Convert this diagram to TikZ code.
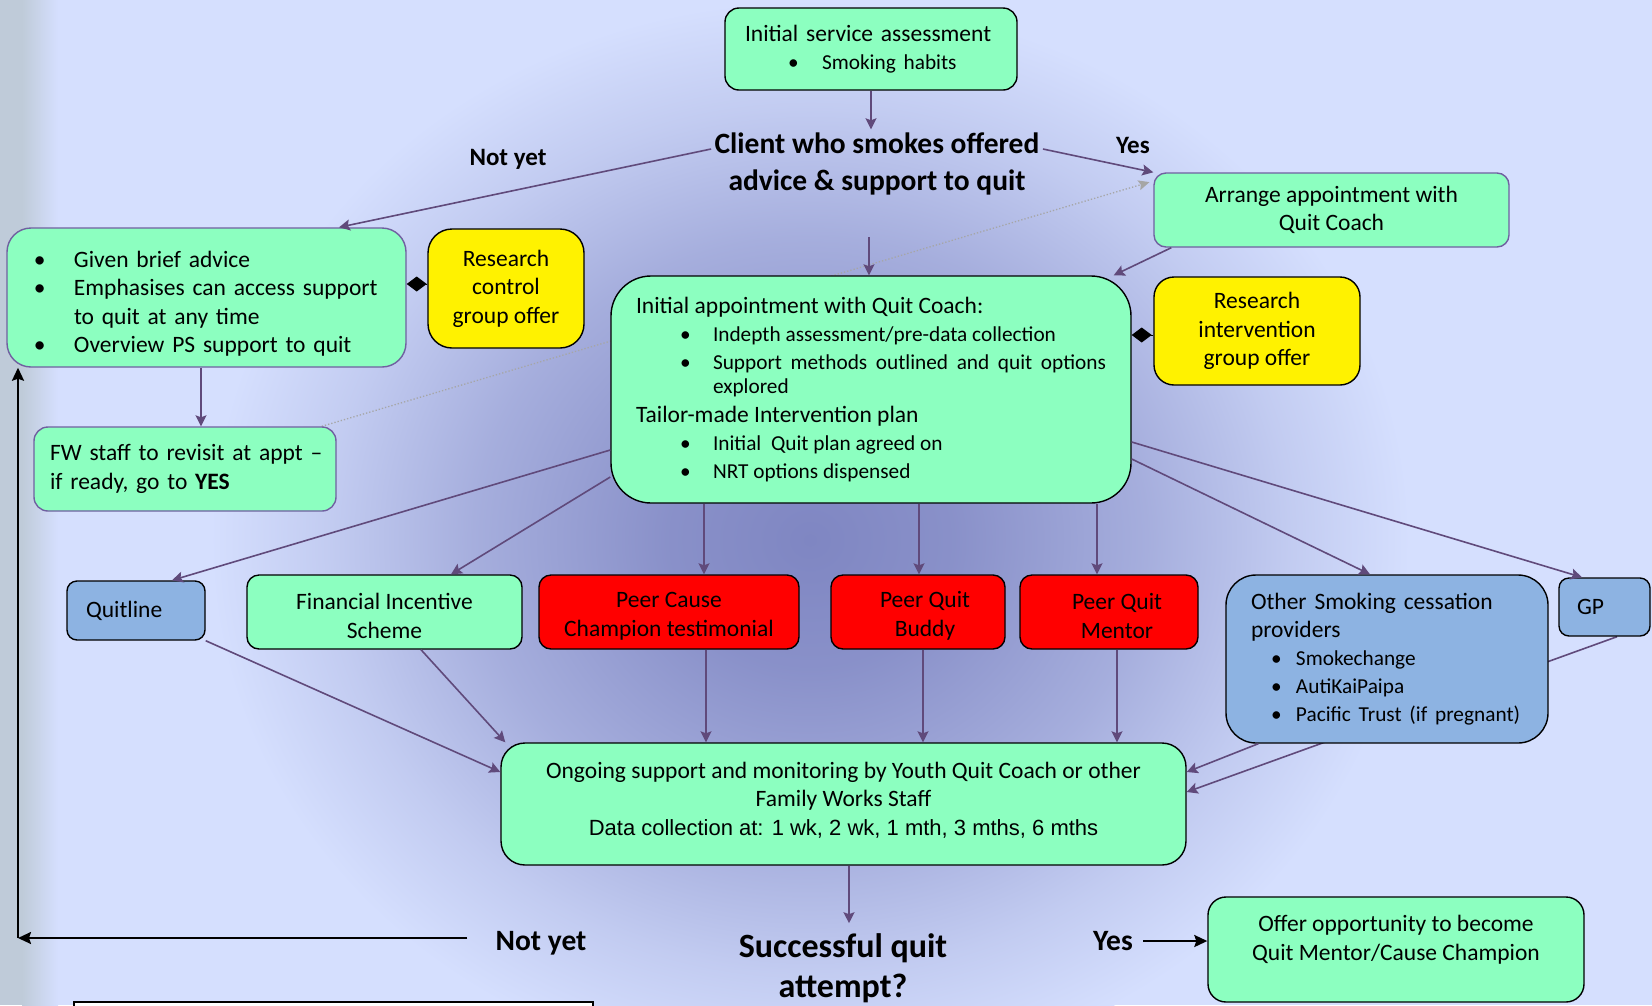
\documentclass[tikz,border=0pt]{standalone}
\usepackage{fontspec}
\setmainfont{Carlito}
\newfontfamily\arialfont{Liberation Sans}
\usepackage{tikz}
\usetikzlibrary{positioning}
\usetikzlibrary{shapes,arrows,calc,arrows.meta}
\pgfdeclarelayer{background}
\pgfdeclarelayer{behind}
\pgfsetlayers{background,behind,main}
\definecolor{bgblue}{HTML}{D5DFFE}
\definecolor{bgdark}{HTML}{7F86C2}
\definecolor{stripgray}{HTML}{BFCBD9}
\definecolor{mint}{HTML}{8CFFC0}
\definecolor{quitblue}{HTML}{8DB3E2}
\definecolor{linepurple}{HTML}{604A7B}
\definecolor{boxpurple}{HTML}{7060A0}
\definecolor{dotgray}{HTML}{A6A6A6}
\pgfdeclareradialshading{glow}{\pgfpoint{0bp}{0bp}}{color(0bp)=(bgdark);
  color(6bp)=(bgdark!88!bgblue); color(14bp)=(bgdark!55!bgblue);
  color(20bp)=(bgdark!22!bgblue); color(25bp)=(bgblue); color(50bp)=(bgblue)}
\newcommand{\boxfont}{\fontsize{23.5}{28.4}\selectfont}
\newcommand{\smfont}{\fontsize{21.3}{24}\selectfont\parskip=4pt}
\newcommand{\bitem}[3]{\par\hangindent=#2\hangafter=1\noindent\hbox to #2{\hspace*{#1}\textbullet\hfil}#3\par}
\newcommand{\topstrut}{\rule{0pt}{24pt}}

\begin{document}
\begin{tikzpicture}[x=1pt,y=-1pt,
  box/.style={draw=black,line width=1.4pt,fill=mint,font=\boxfont,align=center,inner sep=0pt,rounded corners=12pt},
  lbox/.style={box,align=left,inner xsep=#1},
  arr/.style={draw=linepurple,line width=1.6pt,-{Stealth[length=11pt,width=11pt,inset=2pt]}},
  blk/.style={draw=black,line width=2.2pt,-{Stealth[length=13pt,width=12pt,inset=2pt]}},
  dia/.style={draw=black,line width=1pt,-{Diamond[length=20pt,width=15pt]}},
  big/.style={font=\bfseries\fontsize{29.5}{37}\selectfont,align=center}]
  \useasboundingbox (0,0) rectangle (1652,1005);
  \begin{pgfonlayer}{background}
    \fill[bgblue] (0,0) rectangle (1652,1005);
    \shade[shading=glow] (810,540) ellipse (600 and 540);
    \fill[stripgray] (0,0) rectangle (22,1005);
    \shade[left color=stripgray,right color=bgblue] (22,0) rectangle (58,1005);
  \end{pgfonlayer}

  \node[lbox=20pt,text width=252pt,minimum height=82pt,rounded corners=14pt] (init) at (871,49)
    {Initial service assessment\par{\smfont\bitem{43pt}{77pt}{Smoking habits}}};
  \node[big] (client) at (877,164) {Client who smokes offered\\advice \& support to quit};
  \node[font=\bfseries\fontsize{25}{30}\selectfont] (notyet1) at (508,159) {Not yet};
  \node[font=\bfseries\fontsize{25}{30}\selectfont] (yes1) at (1133,145) {Yes};
  \node[box,draw=boxpurple,minimum width=355pt,minimum height=74pt] (arrange) at (1331.5,210)
    {Arrange appointment with\\Quit Coach};
  \node[lbox=12pt,text width=375pt,minimum height=139pt,draw=boxpurple,rounded corners=24pt] (ba) at (206.5,297.5)
    {\bitem{15pt}{55pt}{Given brief advice}\bitem{15pt}{55pt}{Emphasises can access support\newline to quit at any time}\bitem{15pt}{55pt}{Overview PS support to quit}};
  \node[box,fill=yellow,minimum width=156pt,minimum height=119pt,rounded corners=24pt] (rc) at (506,288.5)
    {Research\\control\\group offer};
  \node[lbox=25pt,align=justify,text width=470pt,minimum height=227pt,rounded corners=40pt] (appt) at (871,389.5)
    {Initial appointment with Quit Coach:\par
     {\smfont\bitem{44pt}{77pt}{Indepth assessment/pre-data collection}\bitem{44pt}{77pt}{Support methods outlined and quit options\linebreak explored}}
     Tailor-made Intervention plan\par
     {\smfont\bitem{44pt}{77pt}{Initial\ \ Quit plan agreed on}\bitem{44pt}{77pt}{NRT options dispensed}}};
  \node[box,fill=yellow,minimum width=206pt,minimum height=108pt,rounded corners=20pt] (rint) at (1257,331)
    {Research\\intervention\\group offer};
  \node[lbox=16pt,text width=270pt,minimum height=84pt,draw=boxpurple,rounded corners=14pt] (fw) at (185,469)
    {\mbox{FW staff to revisit at appt –}\\if ready, go to \textbf{YES}};

  \node[lbox=19pt,text width=100pt,minimum height=59pt,fill=quitblue,rounded corners=10pt] (quitline) at (136,610.5) {Quitline};
  \node[box,minimum width=275pt,minimum height=74pt] (fis) at (384.5,612) {\topstrut Financial Incentive\\Scheme};
  \node[box,fill=red,minimum width=260pt,minimum height=74pt] (pcc) at (669,612) {\topstrut Peer Cause\\Champion testimonial};
  \node[box,fill=red,minimum width=174pt,minimum height=74pt] (pqb) at (918,612) {\topstrut\hspace*{14pt}Peer Quit\\\hspace*{14pt}Buddy};
  \node[box,fill=red,minimum width=178pt,minimum height=74pt] (pqm) at (1109,612) {\topstrut\hspace*{16pt}Peer Quit\\\hspace*{16pt}Mentor};
  \node[lbox=25pt,text width=272pt,minimum height=168pt,fill=quitblue,rounded corners=30pt] (other) at (1387,659)
    {Other Smoking cessation\\providers\par
     {\smfont\bitem{20pt}{45pt}{Smokechange}\bitem{20pt}{45pt}{AutiKaiPaipa}\bitem{20pt}{45pt}{Pacific Trust (if pregnant)}}};
  \node[lbox=18pt,text width=55pt,minimum height=58pt,fill=quitblue,rounded corners=10pt] (gp) at (1604.5,607) {GP};

  \node[box,minimum width=685pt,minimum height=122pt,rounded corners=24pt,text depth=11pt] (ongoing) at (843.5,804)
    {Ongoing support and monitoring by Youth Quit Coach or other\\Family Works Staff\\{\arialfont\fontsize{22}{26}\selectfont Data collection at: 1 wk, 2 wk, 1 mth, 3 mths, 6 mths}};
  \node[big,font=\bfseries\fontsize{34}{40}\selectfont,inner ysep=10pt] (succ) at (843,968) {Successful quit\\attempt?};
  \node[big,inner xsep=28pt] (notyet2) at (541,943) {Not yet};
  \node[big,inner xsep=10pt] (yes2) at (1113,941) {Yes};
  \node[box,minimum width=376pt,minimum height=105pt,rounded corners=18pt,text depth=23pt] (offer) at (1396,949.5)
    {Offer opportunity to become\\Quit Mentor/Cause Champion};
  \node[draw=black,fill=white,line width=1.2pt,minimum width=519pt,minimum height=58pt,inner sep=0pt] (notebox) at (333.5,1031) {};
  \coordinate (gap) at (869,237);
  \coordinate (corner) at (18,938);

  \begin{pgfonlayer}{behind}
    \draw[draw=dotgray,line width=1.3pt,dotted,-{Stealth[length=11pt,width=10pt,inset=2pt]},shorten >=4pt]
      ([xshift=-15pt]fw.north east) -- ([yshift=29pt]arrange.west);
    \draw[arr] ([xshift=12.5pt]gp.south) -- ([yshift=12pt]ongoing.east);
  \end{pgfonlayer}

  \path (init.south) edge[arr] (init.south |- client.north)
        ([yshift=15pt]client.west) edge[arr] ([xshift=132.5pt]ba.north)
        ([yshift=15pt]client.east) edge[arr] (arrange.north west)
        (gap) edge[arr] (gap |- appt.north)
        ([xshift=18pt]arrange.south west) edge[arr] ([xshift=-18pt]appt.north east)
        ([xshift=-5.5pt]ba.south) edge[arr] ([xshift=16pt]fw.north)
        ([yshift=-60.5pt]appt.west) edge[arr] ([xshift=36pt]quitline.north)
        ([yshift=-87.5pt]appt.west) edge[arr] ([xshift=66.5pt]fis.north)
        ([yshift=-69.5pt]appt.east) edge[arr] ([xshift=-17pt]other.north)
        ([yshift=-52.5pt]appt.east) edge[arr] ([xshift=-22.5pt]gp.north)
        (quitline.south east) edge[arr] ([yshift=32pt]ongoing.west)
        ([xshift=36.5pt]fis.south) edge[arr] ([xshift=5pt]ongoing.north west)
        ([xshift=33pt]other.south west) edge[arr] ([yshift=32pt]ongoing.east);
  \draw[arr] (appt.south -| pcc.north) ++(35,0) coordinate (t1) -- (t1 |- pcc.north);
  \draw[arr] (appt.south -| pqb.north) ++(1,0) coordinate (t2) -- (t2 |- pqb.north);
  \draw[arr] (appt.south -| pqm.north) ++(-12,0) coordinate (t3) -- (t3 |- pqm.north);
  \draw[arr] (pcc.south) ++(37,0) coordinate (b1) -- (b1 |- ongoing.north);
  \draw[arr] (pqb.south) ++(5,0) coordinate (b2) -- (b2 |- ongoing.north);
  \draw[arr] (pqm.south) ++(8,0) coordinate (b3) -- (b3 |- ongoing.north);
  \draw[arr] (ongoing.south) ++(5.5,0) coordinate (b4) -- (b4 |- succ.north);
  \draw[dia] (rc.west) ++(0,-4.5) coordinate (d1) -- (d1 -| ba.east);
  \draw[dia] (rint.west) ++(0,4) coordinate (d2) -- (d2 -| appt.east);
  \draw[blk] (corner -| notyet2.west) -- (corner);
  \draw[blk] (corner) -- (corner |- ba.south);
  \draw[blk] (yes2.east) -- (yes2.east -| offer.west);
\end{tikzpicture}
\end{document}
